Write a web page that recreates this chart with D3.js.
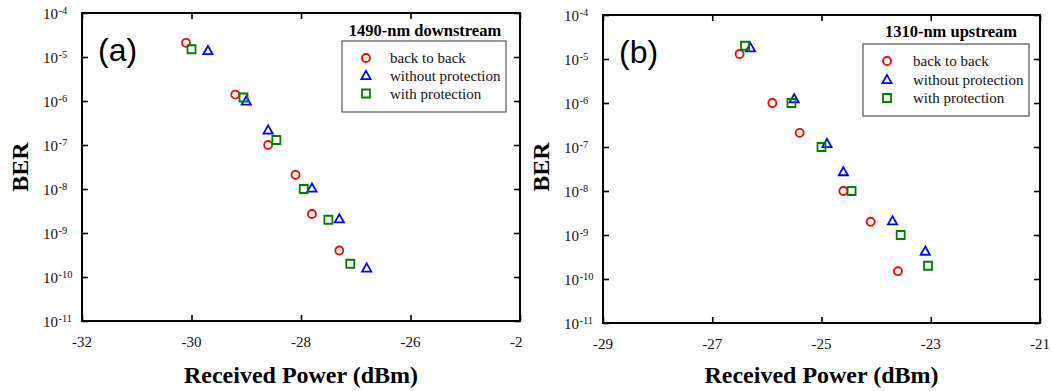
<!DOCTYPE html>
<html>
<head>
<meta charset="utf-8">
<script src="https://cdn.jsdelivr.net/npm/d3@7"></script>
<style>
  html, body { margin: 0; padding: 0; background: #fff; }
  svg { display: block; }
</style>
</head>
<body>
<svg id="chart" width="1052" height="391"></svg>
<script>
// ---------- data ----------
const seriesNames = ["back to back", "without protection", "with protection"];
const seriesColors = ["#ff0000", "#0000ff", "#008000"];
const seriesShapes = ["circle", "triangle", "square"];

// Panel (a): 1490-nm downstream
const aTitle = "1490-nm downstream";
const aLabel = "(a)";
const aXTicks = [-32, -30, -28, -26, -24];
const aB2bX = [-30.1, -29.2, -28.6, -28.1, -27.8, -27.3];
const aB2bY = [2.1e-5, 1.4e-6, 1.0e-7, 2.1e-8, 2.7e-9, 4.0e-10];
const aWoX  = [-29.7, -29.0, -28.6, -27.8, -27.3, -26.8];
const aWoY  = [1.4e-5, 1.0e-6, 2.2e-7, 1.05e-8, 2.1e-9, 1.6e-10];
const aWX   = [-30.0, -29.05, -28.45, -27.95, -27.5, -27.1];
const aWY   = [1.5e-5, 1.2e-6, 1.3e-7, 1.0e-8, 2.0e-9, 2.0e-10];

// Panel (b): 1310-nm upstream
const bTitle = "1310-nm upstream";
const bLabel = "(b)";
const bXTicks = [-29, -27, -25, -23, -21];
const bB2bX = [-26.5, -25.9, -25.4, -24.6, -24.1, -23.6];
const bB2bY = [1.3e-5, 1.0e-6, 2.1e-7, 1.0e-8, 2.0e-9, 1.5e-10];
const bWoX  = [-26.3, -25.5, -24.9, -24.6, -23.7, -23.1];
const bWoY  = [1.8e-5, 1.25e-6, 1.2e-7, 2.75e-8, 2.1e-9, 4.3e-10];
const bWX   = [-26.4, -25.55, -25.0, -24.45, -23.55, -23.05];
const bWY   = [2.0e-5, 1.0e-6, 1.0e-7, 1.0e-8, 1.0e-9, 2.0e-10];

const yExponents = [-4, -5, -6, -7, -8, -9, -10, -11];
const xTitle = "Received Power (dBm)";
const yTitle = "BER";

// ---------- drawing ----------
const svg = d3.select("#chart");
const serif = "'Liberation Serif', 'Times New Roman', serif";
const sans = "'Liberation Sans', Arial, sans-serif";

function shapePath(shape) {
  if (shape === "circle") return d3.symbol().type(d3.symbolCircle).size(Math.PI * 4 * 4)();
  if (shape === "square") return "M-4,-4H4V4H-4Z";
  return "M0,-4.6L4.6,3.6H-4.6Z";
}

function drawPanel(cfg) {
  const { left, top, right, bottom } = cfg.frame;
  const g = svg.append("g");
  const x = d3.scaleLinear().domain([cfg.xTicks[0], cfg.xTicks[cfg.xTicks.length - 1]]).range([left, right]);
  const y = d3.scaleLog().domain([1e-11, 1e-4]).range([bottom, top]);

  const clipId = "clip-" + cfg.id;
  svg.append("defs").append("clipPath").attr("id", clipId)
    .append("rect").attr("x", 0).attr("y", 0).attr("width", cfg.clipRight).attr("height", 391);
  g.attr("clip-path", `url(#${clipId})`);

  // inward ticks on all four sides via d3 axes
  const tickLen = 6;
  g.append("g").attr("transform", `translate(0,${bottom})`)
    .call(d3.axisTop(x).tickValues(cfg.xTicks).tickSize(tickLen).tickFormat(""))
    .call(s => s.select(".domain").remove());
  g.append("g").attr("transform", `translate(0,${top})`)
    .call(d3.axisBottom(x).tickValues(cfg.xTicks).tickSize(tickLen).tickFormat(""))
    .call(s => s.select(".domain").remove());
  const yVals = yExponents.map(e => Math.pow(10, e));
  g.append("g").attr("transform", `translate(${left},0)`)
    .call(d3.axisRight(y).tickValues(yVals).tickSize(tickLen).tickFormat(""))
    .call(s => s.select(".domain").remove());
  g.append("g").attr("transform", `translate(${right},0)`)
    .call(d3.axisLeft(y).tickValues(yVals).tickSize(tickLen).tickFormat(""))
    .call(s => s.select(".domain").remove());
  g.selectAll(".tick line").attr("stroke", "#000").attr("stroke-width", 1.6);

  // frame
  g.append("rect").attr("x", left).attr("y", top)
    .attr("width", right - left).attr("height", bottom - top)
    .attr("fill", "none").attr("stroke", "#000").attr("stroke-width", 2);

  // x tick labels
  g.selectAll(".xl").data(cfg.xTicks).enter().append("text")
    .attr("x", d => x(d)).attr("y", bottom + 26)
    .attr("text-anchor", "middle").attr("font-family", serif).attr("font-size", 15)
    .attr("fill", "#111").text(d => String(d));

  // y tick labels: "10" with superscript exponent
  yExponents.forEach(e => {
    const yy = y(Math.pow(10, e));
    g.append("text").attr("x", left - 24).attr("y", yy + 5.5)
      .attr("text-anchor", "end").attr("font-family", serif).attr("font-size", 15)
      .attr("fill", "#111").text("10");
    g.append("text").attr("x", left - 23.5).attr("y", yy + 0.5)
      .attr("text-anchor", "start").attr("font-family", serif).attr("font-size", 10.5)
      .attr("fill", "#111").text(String(e));
  });

  // axis titles
  g.append("text").attr("x", (left + right) / 2).attr("y", 383)
    .attr("text-anchor", "middle").attr("font-family", serif).attr("font-weight", "bold")
    .attr("font-size", 24).attr("fill", "#000").text(xTitle);
  g.append("text")
    .attr("transform", `translate(${left - 54},${167}) rotate(-90)`)
    .attr("text-anchor", "middle").attr("font-family", serif).attr("font-weight", "bold")
    .attr("font-size", 24).attr("fill", "#000").text(yTitle);

  // panel label
  g.append("text").attr("x", left + 16).attr("y", top + 48)
    .attr("font-family", sans).attr("font-size", 32).attr("fill", "#000").text(cfg.label);

  // legend title and box
  const L = cfg.legend;
  g.append("text").attr("x", L.titleX).attr("y", L.titleY)
    .attr("text-anchor", "middle").attr("font-family", serif).attr("font-weight", "bold")
    .attr("font-size", 16.5).attr("fill", "#000").text(cfg.title);
  g.append("rect").attr("x", L.x0).attr("y", L.y0)
    .attr("width", L.x1 - L.x0).attr("height", L.y1 - L.y0)
    .attr("fill", "#fff").attr("stroke", "#333").attr("stroke-width", 1);
  seriesNames.forEach((name, i) => {
    const ry = L.rows[i];
    g.append("path").attr("d", shapePath(seriesShapes[i]))
      .attr("transform", `translate(${L.markerX},${ry})`)
      .attr("fill", "none").attr("stroke", seriesColors[i]).attr("stroke-width", 1.8);
    g.append("text").attr("x", L.textX).attr("y", ry + 5)
      .attr("font-family", serif).attr("font-size", 15).attr("fill", "#111").text(name);
  });

  // data markers
  cfg.series.forEach((s, i) => {
    const pts = s.x.map((xv, k) => [xv, s.y[k]]);
    g.selectAll(null).data(pts).enter().append("path")
      .attr("d", shapePath(seriesShapes[i]))
      .attr("transform", d => `translate(${x(d[0])},${y(d[1])})`)
      .attr("fill", "none").attr("stroke", seriesColors[i]).attr("stroke-width", 1.8);
  });
}

drawPanel({
  id: "a", label: aLabel, title: aTitle, xTicks: aXTicks,
  frame: { left: 82, top: 13, right: 520, bottom: 321 },
  clipRight: 523,
  legend: { titleX: 425, titleY: 36, x0: 342, y0: 41, x1: 506, y1: 112,
            markerX: 366, textX: 390, rows: [58, 75.5, 93.5] },
  series: [ { x: aB2bX, y: aB2bY }, { x: aWoX, y: aWoY }, { x: aWX, y: aWY } ]
});

drawPanel({
  id: "b", label: bLabel, title: bTitle, xTicks: bXTicks,
  frame: { left: 603, top: 15, right: 1040, bottom: 323 },
  clipRight: 1052,
  legend: { titleX: 951, titleY: 37, x0: 863, y0: 44, x1: 1029, y1: 116,
            markerX: 887, textX: 913, rows: [61, 79.5, 98] },
  series: [ { x: bB2bX, y: bB2bY }, { x: bWoX, y: bWoY }, { x: bWX, y: bWY } ]
});
</script>
</body>
</html>
